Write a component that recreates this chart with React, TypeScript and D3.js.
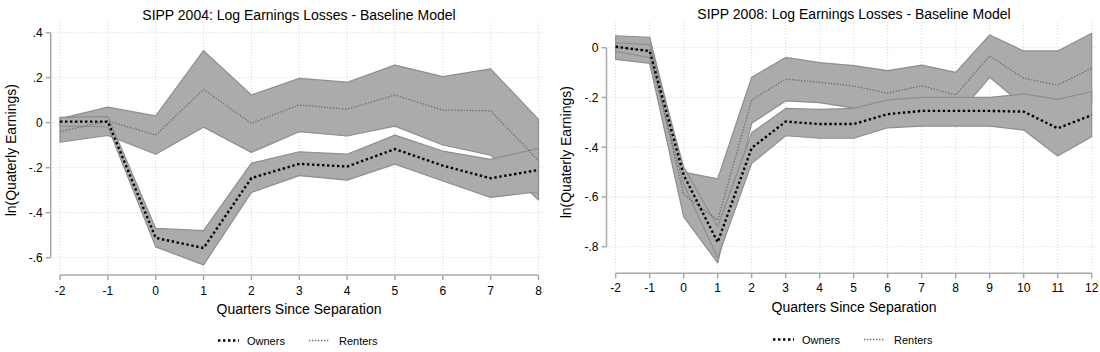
import React from "react";
import * as d3 from "d3";

// ---------- DATA ----------
const quarters2004 = [-2, -1, 0, 1, 2, 3, 4, 5, 6, 7, 8];
const owners2004 = [0.005, 0.005, -0.512, -0.557, -0.246, -0.183, -0.195, -0.117, -0.191, -0.247, -0.21];
const ownersHi2004 = [0.024, 0.027, -0.47, -0.48, -0.18, -0.129, -0.14, -0.055, -0.126, -0.163, -0.114];
const ownersLo2004 = [-0.015, -0.018, -0.552, -0.632, -0.31, -0.235, -0.255, -0.184, -0.259, -0.332, -0.307];
const renters2004 = [-0.04, 0.008, -0.055, 0.148, -0.003, 0.079, 0.06, 0.123, 0.056, 0.053, -0.169];
const rentersHi2004 = [0.018, 0.069, 0.03, 0.32, 0.123, 0.197, 0.18, 0.256, 0.205, 0.239, 0.015];
const rentersLo2004 = [-0.087, -0.057, -0.14, -0.02, -0.132, -0.04, -0.059, -0.015, -0.099, -0.144, -0.344];
const yTicks2004 = [0.4, 0.2, 0, -0.2, -0.4, -0.6];

const quarters2008 = [-2, -1, 0, 1, 2, 3, 4, 5, 6, 7, 8, 9, 10, 11, 12];
const owners2008 = [0.004, -0.014, -0.512, -0.782, -0.403, -0.297, -0.307, -0.307, -0.267, -0.254, -0.254, -0.254, -0.257, -0.324, -0.271];
const ownersHi2008 = [0.02, 0.012, -0.48, -0.72, -0.342, -0.244, -0.248, -0.244, -0.21, -0.2, -0.2, -0.2, -0.186, -0.208, -0.177];
const ownersLo2008 = [-0.015, -0.04, -0.55, -0.845, -0.465, -0.354, -0.364, -0.364, -0.322, -0.315, -0.315, -0.315, -0.331, -0.435, -0.358];
const renters2008 = [0.0, -0.01, -0.59, -0.693, -0.21, -0.126, -0.139, -0.154, -0.183, -0.153, -0.19, -0.033, -0.123, -0.15, -0.083];
const rentersHi2008 = [0.048, 0.042, -0.5, -0.527, -0.119, -0.039, -0.06, -0.072, -0.092, -0.07, -0.099, 0.051, -0.013, -0.013, 0.058];
const rentersLo2008 = [-0.047, -0.063, -0.68, -0.865, -0.304, -0.214, -0.221, -0.243, -0.274, -0.236, -0.28, -0.119, -0.233, -0.287, -0.224];
const yTicks2008 = [0, -0.2, -0.4, -0.6, -0.8];

const titles = ["SIPP 2004: Log Earnings Losses - Baseline Model", "SIPP 2008: Log Earnings Losses - Baseline Model"];
const xTitle = "Quarters Since Separation";
const yTitle = "ln(Quaterly Earnings)";
const legendLabels = ["Owners", "Renters"];

const FONT = "'Liberation Sans', Arial, Helvetica, sans-serif";
const BAND_FILL = "#ababab";
const BAND_EDGE = "#8e8e8e";
const GRID = "#d4d4d4";
const AXIS = "#a8a8a8";

const fmt = (v: number) => {
  if (Math.abs(v) < 1e-9) return "0";
  const s = v.toFixed(1);
  return s.replace("0.", ".");
};

type PanelProps = {
  title: string;
  quarters: number[];
  owners: number[];
  ownersHi: number[];
  ownersLo: number[];
  renters: number[];
  rentersHi: number[];
  rentersLo: number[];
  yTicks: number[];
  x0: number; x1: number;
  yTop: number; yBot: number;
  axisY: number;
  yAxisX: number;
  plotTop: number; plotRight: number;
  cx: number;
  titleY: number; tickLabelY: number; xTitleY: number; legendY: number;
  yTitleX: number;
  legendX: number;
};

function Panel(p: PanelProps) {
  const x = d3.scaleLinear().domain([p.quarters[0], p.quarters[p.quarters.length - 1]]).range([p.x0, p.x1]);
  const yMax = Math.max(...p.yTicks), yMin = Math.min(...p.yTicks);
  const y = d3.scaleLinear().domain([yMin, yMax]).range([p.yBot, p.yTop]);
  const idx = p.quarters.map((_, i) => i);
  const band = (hi: number[], lo: number[]) =>
    d3.area<number>().x(i => x(p.quarters[i])).y0(i => y(lo[i])).y1(i => y(hi[i]))(idx) || "";
  const line = (v: number[]) => d3.line<number>().x(i => x(p.quarters[i])).y(i => y(v[i]))(idx) || "";
  return (
    <g>
      {/* grid */}
      {p.quarters.map(q => (
        <line key={"gx" + q} x1={x(q)} x2={x(q)} y1={p.plotTop} y2={p.axisY - 3} stroke={GRID} strokeWidth={1} strokeDasharray="1,2" />
      ))}
      {p.yTicks.map(t => (
        <line key={"gy" + t} x1={p.yAxisX + 2} x2={p.plotRight} y1={y(t)} y2={y(t)} stroke={GRID} strokeWidth={1} strokeDasharray="1,2" />
      ))}
      {/* bands */}
      <path d={band(p.rentersHi, p.rentersLo)} fill={BAND_FILL} stroke={BAND_EDGE} strokeWidth={1.2} strokeLinejoin="round" />
      <path d={band(p.ownersHi, p.ownersLo)} fill={BAND_FILL} stroke={BAND_EDGE} strokeWidth={1.2} strokeLinejoin="round" />
      {/* lines */}
      <path d={line(p.renters)} fill="none" stroke="#6a6a6a" strokeWidth={1.3} strokeDasharray="1.3,1.7" />
      <path d={line(p.owners)} fill="none" stroke="#000" strokeWidth={2.4} strokeDasharray="2.4,2.6" />
      {/* y axis */}
      <line x1={p.yAxisX} x2={p.yAxisX} y1={y(yMax)} y2={y(yMin)} stroke={AXIS} strokeWidth={1.5} />
      {p.yTicks.map(t => (
        <g key={"yt" + t}>
          <line x1={p.yAxisX - 5} x2={p.yAxisX} y1={y(t)} y2={y(t)} stroke={AXIS} strokeWidth={1.5} />
          <text x={p.yAxisX - 8} y={y(t) + 4.3} textAnchor="end" fontSize={12} fontFamily={FONT} fill="#000">{fmt(t)}</text>
        </g>
      ))}
      {/* x axis */}
      <line x1={p.x0} x2={p.x1} y1={p.axisY} y2={p.axisY} stroke={AXIS} strokeWidth={1.5} />
      {p.quarters.map(q => (
        <g key={"xt" + q}>
          <line x1={x(q)} x2={x(q)} y1={p.axisY} y2={p.axisY + 5} stroke={AXIS} strokeWidth={1.5} />
          <text x={x(q)} y={p.tickLabelY} textAnchor="middle" fontSize={12} fontFamily={FONT} fill="#000">{String(q)}</text>
        </g>
      ))}
      {/* titles */}
      <text x={p.cx} y={p.titleY} textAnchor="middle" fontSize={14} fontFamily={FONT} fill="#000">{p.title}</text>
      <text x={p.cx} y={p.xTitleY} textAnchor="middle" fontSize={14} fontFamily={FONT} fill="#000">{xTitle}</text>
      <text transform={`translate(${p.yTitleX},${(p.yTop + p.yBot) / 2 + 5}) rotate(-90)`} textAnchor="middle" fontSize={14} fontFamily={FONT} fill="#000">{yTitle}</text>
      {/* legend */}
      <g transform={`translate(${p.legendX},${p.legendY})`}>
        <line x1={0} x2={21} y1={-4} y2={-4} stroke="#000" strokeWidth={2.4} strokeDasharray="2.4,2.6" />
        <text x={29} y={0} fontSize={11} fontFamily={FONT} fill="#000">{legendLabels[0]}</text>
        <line x1={91} x2={112} y1={-4} y2={-4} stroke="#6a6a6a" strokeWidth={1.3} strokeDasharray="1.3,1.7" />
        <text x={121} y={0} fontSize={11} fontFamily={FONT} fill="#000">{legendLabels[1]}</text>
      </g>
    </g>
  );
}

export default function App() {
  return (
    <svg width={1100} height={352} viewBox="0 0 1100 352" style={{ position: "absolute", left: 0, top: 0, background: "#fff" }}>
      <rect x={0} y={0} width={1100} height={352} fill="#fff" />
      <Panel
        title={titles[0]}
        quarters={quarters2004}
        owners={owners2004} ownersHi={ownersHi2004} ownersLo={ownersLo2004}
        renters={renters2004} rentersHi={rentersHi2004} rentersLo={rentersLo2004}
        yTicks={yTicks2004}
        x0={60} x1={538.5} yTop={32.7} yBot={257.7} axisY={275} yAxisX={50.7}
        plotTop={22} plotRight={543} cx={299}
        titleY={20} tickLabelY={294.5} xTitleY={313.5} legendY={344.5}
        yTitleX={15.5} legendX={218}
      />
      <Panel
        title={titles[1]}
        quarters={quarters2008}
        owners={owners2008} ownersHi={ownersHi2008} ownersLo={ownersLo2008}
        renters={renters2008} rentersHi={rentersHi2008} rentersLo={rentersLo2008}
        yTicks={yTicks2008}
        x0={615.7} x1={1091.7} yTop={47.7} yBot={246.7} axisY={273.3} yAxisX={606.5}
        plotTop={22} plotRight={1098} cx={854}
        titleY={18.5} tickLabelY={291.5} xTitleY={312} legendY={343.5}
        yTitleX={571} legendX={773}
      />
    </svg>
  );
}
